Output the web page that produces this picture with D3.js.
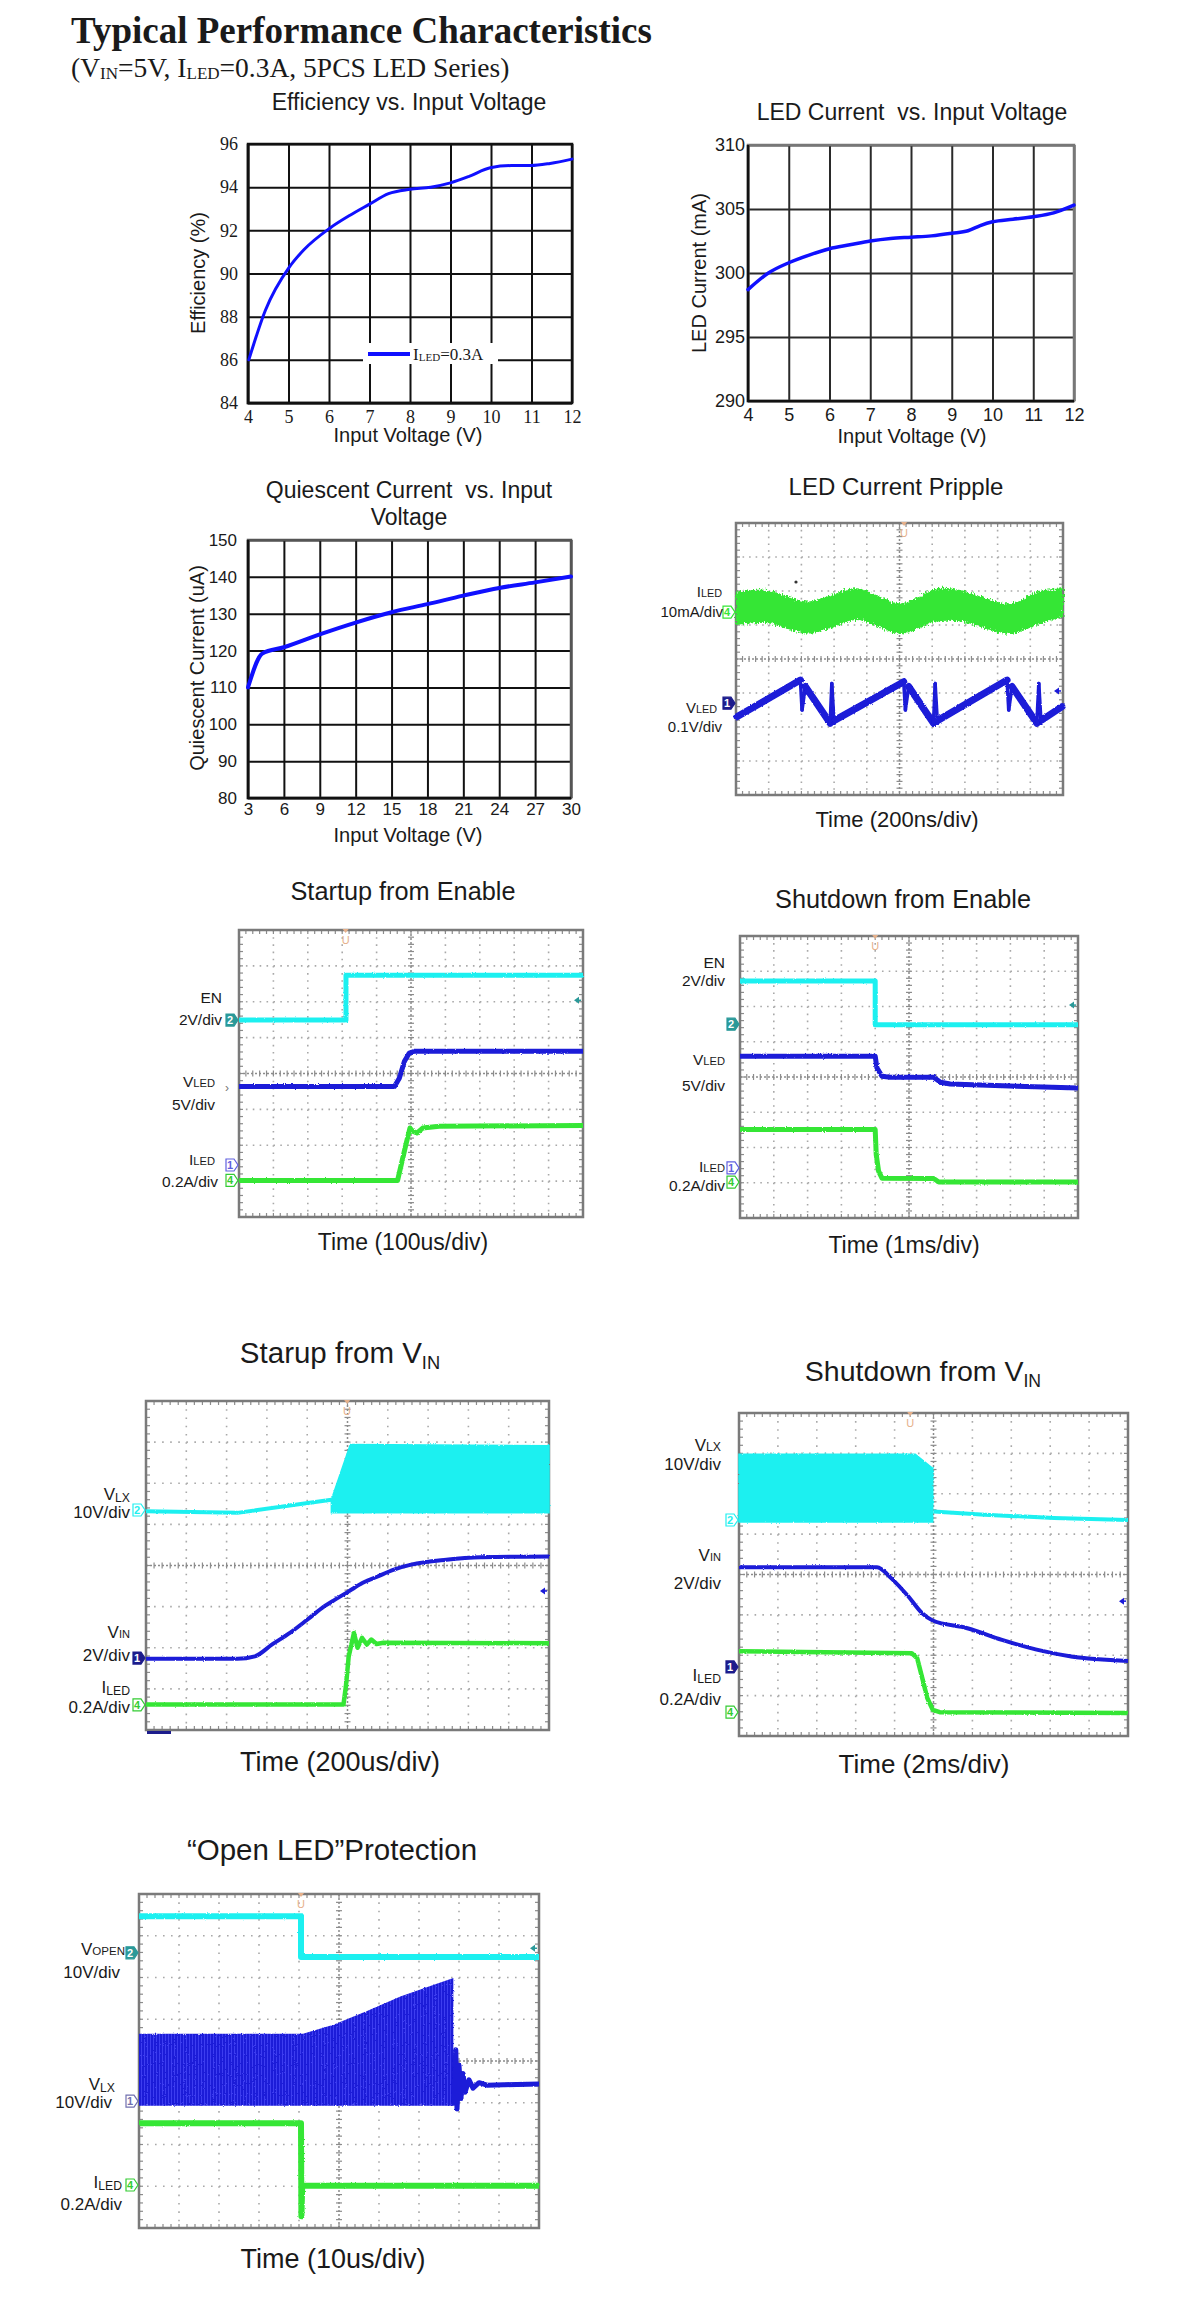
<!DOCTYPE html>
<html>
<head>
<meta charset="utf-8">
<script src="https://cdn.jsdelivr.net/npm/d3@7"></script>
<style>
  body { margin: 0; background: #fff; }
  svg { display: block; }
  text { font-family: "Liberation Sans", Arial, sans-serif; fill: #1a1a1a; }
  .serif { font-family: "Liberation Serif", "Times New Roman", serif; }
</style>
</head>
<body>
<div id="content"></div>
<script>
// ---------------- data ----------------

// Efficiency vs. Input Voltage
var effVin = [4.02, 4.43, 5.02, 5.38, 6.02, 6.52, 6.99, 7.47, 8.0, 8.51, 9.0, 9.46, 9.98, 10.5, 10.98, 11.46, 12.0];
var effPct = [86.0, 88.3, 90.3, 91.1, 92.1, 92.7, 93.2, 93.7, 93.9, 94.0, 94.2, 94.5, 94.9, 95.0, 95.0, 95.1, 95.3];
var effXTicks = [4, 5, 6, 7, 8, 9, 10, 11, 12];
var effYTicks = [84, 86, 88, 90, 92, 94, 96];

// LED Current vs. Input Voltage
var iledVin = [4, 4.5, 5, 5.5, 6, 6.5, 7, 7.5, 8, 8.5, 9, 9.4, 9.7, 10, 10.5, 11, 11.5, 12];
var iledMa = [298.7, 300.0, 300.8, 301.4, 301.9, 302.2, 302.5, 302.7, 302.8, 302.9, 303.1, 303.3, 303.7, 304.0, 304.2, 304.4, 304.7, 305.3];
var iledXTicks = [4, 5, 6, 7, 8, 9, 10, 11, 12];
var iledYTicks = [290, 295, 300, 305, 310];

// Quiescent Current vs. Input Voltage
var iqVin = [3, 4.2, 6, 9, 12, 15, 18, 21, 24, 27, 30];
var iqUa = [110, 119.2, 120.9, 124.4, 127.6, 130.4, 132.6, 134.9, 137, 138.5, 140.1];
var iqXTicks = [3, 6, 9, 12, 15, 18, 21, 24, 27, 30];
var iqYTicks = [80, 90, 100, 110, 120, 130, 140, 150];

// scope shots: [division from left, division from bottom] (10 x 8 divs)
// LED current ripple
var rippleIledBand = [[0, 5.0, 5.98], [0.95, 5.05, 6.03], [2.17, 4.75, 5.69], [2.88, 4.9, 5.88], [3.7, 5.15, 6.08], [5.03, 4.75, 5.64],
  [6.15, 5.1, 6.08], [6.86, 5.1, 6.03], [8.39, 4.74, 5.64], [9.2, 5.0, 5.98], [10, 5.25, 6.08]];
var rippleVled = [[0.03, 2.3], [1.97, 3.38], [2.02, 2.5], [2.12, 3.19], [2.88, 2.11], [2.93, 3.28], [3.0, 2.11], [3.04, 2.21],
  [5.13, 3.33], [5.18, 2.5], [5.28, 3.19], [6.04, 2.11], [6.09, 3.28], [6.16, 2.11], [6.2, 2.21],
  [8.29, 3.38], [8.34, 2.5], [8.44, 3.19], [9.2, 2.11], [9.26, 3.28], [9.33, 2.11], [9.36, 2.21], [9.97, 2.6]];

// Startup from Enable
var suEnEN = [[0, 5.49], [3.11, 5.49], [3.11, 6.74], [10, 6.74]];
var suEnVled = [[0, 3.64], [4.52, 3.64], [4.66, 3.87], [4.81, 4.34], [4.95, 4.57], [5.1, 4.62], [10, 4.62]];
var suEnIled = [[0, 1.02], [4.61, 1.02], [4.85, 2.01], [4.97, 2.48], [5.05, 2.39], [5.17, 2.34], [5.34, 2.48], [5.82, 2.53], [10, 2.55]];

// Shutdown from Enable
var sdEnEN = [[0, 6.72], [4.0, 6.72], [4.0, 5.48], [10, 5.48]];
var sdEnVled = [[0, 4.59], [4.0, 4.59], [4.05, 4.26], [4.2, 4.02], [4.45, 3.99], [5.73, 3.99], [5.93, 3.85], [6.22, 3.8], [8.2, 3.74], [10, 3.69]];
var sdEnIled = [[0, 2.51], [4.0, 2.51], [4.03, 1.8], [4.1, 1.33], [4.2, 1.13], [5.73, 1.12], [5.88, 1.02], [10, 1.02]];

// Startup from VIN
var suVinVlxIdle = [[0, 5.32], [2.27, 5.28], [4.6, 5.6]];
var suVinVlxHi = [[4.6, 5.6], [5.07, 6.94], [10, 6.91]];
var suVinVlxLo = [[4.6, 5.28], [10, 5.28]];
var suVinVin = [[0, 1.73], [2.27, 1.73], [2.7, 1.79], [3.13, 2.08], [3.57, 2.36], [4.0, 2.68], [4.43, 3.01], [4.69, 3.17], [5.03, 3.37],
  [5.38, 3.58], [5.72, 3.72], [6.15, 3.9], [6.58, 4.02], [7.45, 4.14], [8.31, 4.2], [10, 4.22]];
var suVinIled = [[0, 0.62], [4.9, 0.62], [4.96, 1.06], [5.03, 1.79], [5.16, 2.36], [5.25, 2.0], [5.36, 2.24], [5.48, 2.08],
  [5.59, 2.2], [5.72, 2.09], [5.89, 2.12], [10, 2.11]];

// Shutdown from VIN
var sdVinVlxHi = [[0, 6.98], [4.53, 6.98], [4.98, 6.63]];
var sdVinVlxLo = [[0, 5.3], [4.98, 5.3]];
var sdVinVlxOff = [[5.0, 5.56], [6.32, 5.48], [8.1, 5.4], [10, 5.35]];
var sdVinVin = [[0, 4.18], [3.55, 4.18], [3.91, 3.91], [4.35, 3.46], [4.71, 3.04], [4.98, 2.86], [5.87, 2.67], [6.76, 2.38],
  [7.65, 2.14], [8.54, 1.97], [10, 1.86]];
var sdVinIled = [[0, 2.1], [4.44, 2.05], [4.58, 1.93], [4.71, 1.44], [4.84, 0.94], [4.98, 0.65], [5.16, 0.59], [10, 0.57]];

// "Open LED" protection
var olVopen = [[0, 7.47], [4.05, 7.47], [4.05, 6.49], [10, 6.49]];
var olVlxHi = [[0, 4.65], [4.1, 4.65], [4.86, 4.87], [5.7, 5.2], [6.55, 5.55], [7.39, 5.83], [7.86, 5.99]];
var olVlxLo = [[0, 2.93], [7.86, 2.93]];
var olVlxRing = [[7.86, 2.93], [7.92, 4.27], [7.95, 2.85], [8.0, 3.9], [8.05, 3.1], [8.1, 3.7], [8.15, 3.25], [8.25, 3.55],
  [8.35, 3.35], [8.5, 3.48], [8.7, 3.42], [10, 3.45]];
var olIled = [[0, 2.51], [4.05, 2.51], [4.06, 0.28], [4.08, 1.01], [10, 1.01]];

// ---------------- setup ----------------
var W = 1200, H = 2307;
var cyan = "#1ff0f0", blue = "#1a1ad8", green = "#35e635", teal = "#2a9999", navy = "#1c1c8c";

var svg = d3.select("#content")
  .append("svg")
  .attr("width", W)
  .attr("height", H);

svg.append("rect").attr("width", W).attr("height", H).attr("fill", "#fff");

var defs = svg.append("defs");

// slight scope noise on the traces
function roughFilter(id, freq, scale) {
  var f = defs.append("filter").attr("id", id)
    .attr("filterUnits", "userSpaceOnUse")
    .attr("x", 0).attr("y", 0).attr("width", W).attr("height", H);
  f.append("feTurbulence").attr("type", "fractalNoise").attr("baseFrequency", freq)
    .attr("numOctaves", 1).attr("seed", 7).attr("result", "noise");
  f.append("feDisplacementMap").attr("in", "SourceGraphic").attr("in2", "noise")
    .attr("scale", scale).attr("xChannelSelector", "R").attr("yChannelSelector", "G");
}
roughFilter("rough", "0.9 0.9", 2.5);
roughFilter("roughBand", "0.9 0.4", 8);

var stripe = defs.append("pattern").attr("id", "blueStripe")
  .attr("patternUnits", "userSpaceOnUse").attr("width", 3).attr("height", 10);
stripe.append("rect").attr("width", 3).attr("height", 10).attr("fill", "#1a1ad8");
stripe.append("rect").attr("width", 1).attr("height", 10).attr("fill", "#3c3cf0");

// text with sub parts: parts = [[text, relSize, dy], ...]
function richText(g, x, y, size, anchor, parts, cls) {
  var t = g.append("text")
    .attr("x", x).attr("y", y)
    .attr("text-anchor", anchor)
    .style("font-size", size + "px")
    .style("white-space", "pre");
  if (cls) t.attr("class", cls);
  parts.forEach(function (p) {
    var s = t.append("tspan").text(p[0]);
    if (p[1]) s.style("font-size", (size * p[1]) + "px");
    if (p[2]) s.attr("dy", p[2]);
  });
  return t;
}

////////////////////////////////////////////////
// header
svg.append("text")
  .attr("x", 71).attr("y", 43)
  .attr("class", "serif")
  .style("font-size", "37px")
  .style("font-weight", "bold")
  .text("Typical Performance Characteristics");

richText(svg, 71, 77, 27.5, "start", [["(V"], ["IN", 0.62, 2], ["=5V, I", 0, -2], ["LED", 0.62, 2], ["=0.3A, 5PCS LED Series)", 0, -2]], "serif");

////////////////////////////////////////////////
// line charts

function lineChart(o) {
  var x = d3.scaleLinear().domain(o.xDomain).range([o.left, o.right]);
  var y = d3.scaleLinear().domain(o.yDomain).range([o.bottom, o.top]);
  var g = svg.append("g");

  var xAxis = g.append("g")
    .attr("transform", "translate(0," + o.bottom + ")")
    .call(d3.axisBottom(x).tickValues(o.xTicks).tickSizeInner(-(o.bottom - o.top)).tickSizeOuter(0).tickPadding(o.xPad));
  var yAxis = g.append("g")
    .attr("transform", "translate(" + o.left + ",0)")
    .call(d3.axisLeft(y).tickValues(o.yTicks).tickSizeInner(-(o.right - o.left)).tickSizeOuter(0).tickPadding(o.yPad));

  [xAxis, yAxis].forEach(function (a) {
    a.select(".domain").remove();
    a.selectAll("line").attr("stroke", o.grid).attr("stroke-width", o.gridW);
    a.selectAll("text")
      .attr("class", o.tickCls || null)
      .style("font-size", o.tickSize + "px")
      .attr("fill", "#1a1a1a");
  });

  // frame
  g.append("rect")
    .attr("x", o.left).attr("y", o.top)
    .attr("width", o.right - o.left).attr("height", o.bottom - o.top)
    .attr("fill", "none").attr("stroke", o.frameTR).attr("stroke-width", o.frameW);
  g.append("path")
    .attr("d", "M" + o.left + "," + o.top + "V" + o.bottom + "H" + o.right)
    .attr("fill", "none").attr("stroke", "#111").attr("stroke-width", o.frameW);

  if (o.legend) o.legend(g);

  var line = d3.line()
    .x(function (d) { return x(d[0]); })
    .y(function (d) { return y(d[1]); })
    .curve(d3.curveMonotoneX);
  g.append("path")
    .datum(o.xs.map(function (v, i) { return [v, o.ys[i]]; }))
    .attr("d", line)
    .attr("fill", "none")
    .attr("stroke", "#1010ff")
    .attr("stroke-width", o.lineW)
    .attr("stroke-linecap", "round");

  // titles
  o.title.forEach(function (t, i) {
    g.append("text").attr("x", o.titleX).attr("y", o.titleY + i * 27)
      .attr("text-anchor", "middle").style("font-size", "23px").style("white-space", "pre").text(t);
  });
  g.append("text").attr("x", o.xTitleX).attr("y", o.xTitleY)
    .attr("text-anchor", "middle").style("font-size", "20px").text("Input Voltage (V)");
  g.append("text")
    .attr("transform", "translate(" + o.yTitleX + "," + o.yTitleY + ") rotate(-90)")
    .attr("text-anchor", "middle").style("font-size", "20px").text(o.yTitle);
}

lineChart({
  left: 248, right: 572, top: 144, bottom: 403,
  xDomain: [4, 12], yDomain: [84, 96],
  xTicks: effXTicks, yTicks: effYTicks,
  xPad: 7, yPad: 10, tickSize: 18, tickCls: "serif",
  grid: "#111", gridW: 2, frameTR: "#111", frameW: 2.5,
  xs: effVin, ys: effPct, lineW: 3,
  title: ["Efficiency vs. Input Voltage"], titleX: 409, titleY: 110,
  xTitleX: 408, xTitleY: 442,
  yTitle: "Efficiency (%)", yTitleX: 205, yTitleY: 273,
  legend: function (g) {
    g.append("rect").attr("x", 363).attr("y", 343).attr("width", 135).attr("height", 21).attr("fill", "#fff");
    g.append("line").attr("x1", 368).attr("x2", 410).attr("y1", 354).attr("y2", 354)
      .attr("stroke", "#1010ff").attr("stroke-width", 4);
    richText(g, 413, 360, 17, "start", [["I"], ["LED", 0.65, 1], ["=0.3A", 0, -1]], "serif");
  }
});

lineChart({
  left: 748, right: 1074, top: 145, bottom: 401,
  xDomain: [4, 12], yDomain: [290, 310],
  xTicks: iledXTicks, yTicks: iledYTicks,
  xPad: 7, yPad: 3, tickSize: 18,
  grid: "#2a2a2a", gridW: 2, frameTR: "#777", frameW: 2.5,
  xs: iledVin, ys: iledMa, lineW: 3.5,
  title: ["LED Current  vs. Input Voltage"], titleX: 912, titleY: 120,
  xTitleX: 912, xTitleY: 443,
  yTitle: "LED Current (mA)", yTitleX: 706, yTitleY: 273
});

lineChart({
  left: 248, right: 571, top: 540, bottom: 798,
  xDomain: [3, 30], yDomain: [80, 150],
  xTicks: iqXTicks, yTicks: iqYTicks,
  xPad: 5, yPad: 11, tickSize: 17,
  grid: "#111", gridW: 2, frameTR: "#555", frameW: 2.5,
  xs: iqVin, ys: iqUa, lineW: 4,
  title: ["Quiescent Current  vs. Input", "Voltage"], titleX: 409, titleY: 498,
  xTitleX: 408, xTitleY: 842,
  yTitle: "Quiescent Current (uA)", yTitleX: 204, yTitleY: 668
});

////////////////////////////////////////////////
// oscilloscope shots

function scope(o) {
  var x = d3.scaleLinear().domain([0, 10]).range([o.left, o.right]);
  var y = d3.scaleLinear().domain([0, 8]).range([o.bottom, o.top]);
  var g = svg.append("g");
  var dx = (o.right - o.left) / 50, dy = (o.bottom - o.top) / 40;

  // dotted divisions
  g.selectAll(".vdiv")
    .data(d3.range(1, 10).filter(function (d) { return d !== 5; }))
    .join("line")
    .attr("x1", function (d) { return x(d); }).attr("x2", function (d) { return x(d); })
    .attr("y1", o.top).attr("y2", o.bottom)
    .attr("stroke", "#a9a9a9").attr("stroke-width", 1.6)
    .attr("stroke-dasharray", "1.6," + (dy - 1.6));
  g.selectAll(".hdiv")
    .data(d3.range(1, 8).filter(function (d) { return d !== 4; }))
    .join("line")
    .attr("y1", function (d) { return y(d); }).attr("y2", function (d) { return y(d); })
    .attr("x1", o.left).attr("x2", o.right)
    .attr("stroke", "#a9a9a9").attr("stroke-width", 1.6)
    .attr("stroke-dasharray", "1.6," + (dx - 1.6));

  // center cross with minor ticks
  g.append("line").attr("x1", x(5)).attr("x2", x(5)).attr("y1", o.top).attr("y2", o.bottom)
    .attr("stroke", "#8c8c8c").attr("stroke-width", 1.5).attr("stroke-dasharray", "2,2");
  g.append("line").attr("y1", y(4)).attr("y2", y(4)).attr("x1", o.left).attr("x2", o.right)
    .attr("stroke", "#8c8c8c").attr("stroke-width", 1.5).attr("stroke-dasharray", "2,2");
  g.selectAll(".ct1").data(d3.range(1, 40)).join("line")
    .attr("x1", x(5) - 3).attr("x2", x(5) + 3)
    .attr("y1", function (d) { return o.top + d * dy; }).attr("y2", function (d) { return o.top + d * dy; })
    .attr("stroke", "#8c8c8c").attr("stroke-width", 1.2);
  g.selectAll(".ct2").data(d3.range(1, 50)).join("line")
    .attr("y1", y(4) - 3).attr("y2", y(4) + 3)
    .attr("x1", function (d) { return o.left + d * dx; }).attr("x2", function (d) { return o.left + d * dx; })
    .attr("stroke", "#8c8c8c").attr("stroke-width", 1.2);

  // frame ticks
  var ft = [];
  d3.range(1, 50).forEach(function (d) {
    var xx = o.left + d * dx;
    ft.push([xx, o.top, xx, o.top + 4], [xx, o.bottom, xx, o.bottom - 4]);
  });
  d3.range(1, 40).forEach(function (d) {
    var yy = o.top + d * dy;
    ft.push([o.left, yy, o.left + 4, yy], [o.right, yy, o.right - 4, yy]);
  });
  g.selectAll(".ft").data(ft).join("line")
    .attr("x1", function (d) { return d[0]; }).attr("y1", function (d) { return d[1]; })
    .attr("x2", function (d) { return d[2]; }).attr("y2", function (d) { return d[3]; })
    .attr("stroke", "#8c8c8c").attr("stroke-width", 1.2);

  g.append("rect")
    .attr("x", o.left).attr("y", o.top)
    .attr("width", o.right - o.left).attr("height", o.bottom - o.top)
    .attr("fill", "none").attr("stroke", "#7a7a7a").attr("stroke-width", 2.5);

  var line = d3.line()
    .x(function (d) { return x(d[0]); })
    .y(function (d) { return y(d[1]); });

  // switching bands (filled)
  (o.bands || []).forEach(function (b) {
    var pts = b.hi.concat(b.lo.slice().reverse());
    g.append("path")
      .attr("d", line(pts) + "Z")
      .attr("fill", b.fill).attr("stroke", b.stroke || "none").attr("stroke-width", 1.5)
      .attr("filter", "url(#rough)");
  });
  if (o.noisyBand) {
    var area = d3.area()
      .x(function (d) { return x(d[0]); })
      .y0(function (d) { return y(d[1]); })
      .y1(function (d) { return y(d[2]); })
      .curve(d3.curveCatmullRom);
    g.append("path")
      .datum(o.noisyBand.data)
      .attr("d", area)
      .attr("fill", o.noisyBand.color)
      .attr("filter", "url(#roughBand)");
  }

  // traces
  o.traces.forEach(function (t) {
    g.append("path")
      .datum(t.data)
      .attr("d", line.curve(t.curve || d3.curveLinear))
      .attr("fill", "none")
      .attr("stroke", t.color)
      .attr("stroke-width", t.width)
      .attr("stroke-linejoin", "round")
      .attr("filter", "url(#rough)");
  });

  // sawtooth: long ramps drawn thicker than the fast edges
  if (o.saw) {
    var segs = d3.pairs(o.saw.data);
    g.selectAll(".saw").data(segs).join("line")
      .attr("x1", function (d) { return x(d[0][0]); }).attr("y1", function (d) { return y(d[0][1]); })
      .attr("x2", function (d) { return x(d[1][0]); }).attr("y2", function (d) { return y(d[1][1]); })
      .attr("stroke", o.saw.color)
      .attr("stroke-width", function (d) { return d[1][0] - d[0][0] > 0.5 ? 7 : 3.5; })
      .attr("stroke-linecap", "round")
      .attr("filter", "url(#rough)");
  }

  // trigger marker at the top
  var tx = x(o.trigger);
  g.append("path").attr("d", "M" + (tx - 3) + "," + (o.top - 1) + "h6l-3,4z").attr("fill", "#e6b08a");
  g.append("text").attr("x", tx).attr("y", o.top + 14).attr("text-anchor", "middle")
    .style("font-size", "11px").style("fill", "#e6b08a").text("U");

  // arrow marker on the right edge
  var ay = y(o.arrow[0]);
  g.append("path").attr("d", "M" + (o.right - 9) + "," + ay + "l5,-3.5v7z").attr("fill", o.arrow[1]);
  g.append("line").attr("x1", o.right - 5).attr("x2", o.right - 2).attr("y1", ay).attr("y2", ay)
    .attr("stroke", o.arrow[1]).attr("stroke-width", 1.5);

  // channel markers at the left edge
  o.markers.forEach(function (m) {
    var my = y(m.level), px = o.left - 1, w = 12, h = 12;
    g.append("path")
      .attr("d", "M" + (px - w) + "," + (my - h / 2) + "h" + (w - 4) + "l4," + (h / 2) + "l-4," + (h / 2) + "h" + (-(w - 4)) + "z")
      .attr("fill", m.filled ? m.color : "#fff")
      .attr("stroke", m.color).attr("stroke-width", 1.2);
    g.append("text").attr("x", px - w / 2 - 2).attr("y", my + 4).attr("text-anchor", "middle")
      .style("font-size", "11px").style("font-weight", "bold")
      .style("fill", m.filled ? "#fff" : m.color).text(m.num);
  });

  // channel labels
  o.labels.forEach(function (l) {
    richText(g, l.x, l.y, o.labelSize, "end", l.parts);
  });

  // titles
  richText(g, o.titleX, o.titleY, o.titleSize, "middle", o.title);
  g.append("text").attr("x", o.timeX).attr("y", o.timeY).attr("text-anchor", "middle")
    .style("font-size", o.timeSize + "px").text(o.time);

  return {g: g, x: x, y: y};
}

// LED Current Ripple
var rip = scope({
  left: 736, right: 1063, top: 523, bottom: 795,
  noisyBand: {data: rippleIledBand, color: green},
  traces: [],
  saw: {data: rippleVled, color: blue},
  trigger: 5.14, arrow: [3.06, blue],
  markers: [{level: 5.38, num: "4", color: green}, {level: 2.7, num: "1", color: navy, filled: true}],
  labelSize: 15,
  labels: [
    {x: 722, y: 597, parts: [["I"], ["LED", 0.72]]},
    {x: 723, y: 617, parts: [["10mA/div"]]},
    {x: 717, y: 713, parts: [["V"], ["LED", 0.72]]},
    {x: 722, y: 732, parts: [["0.1V/div"]]}
  ],
  title: [["LED Current Pripple"]], titleX: 896, titleY: 495, titleSize: 24,
  time: "Time (200ns/div)", timeX: 897, timeY: 827, timeSize: 22
});
rip.g.append("circle").attr("cx", 796).attr("cy", 582).attr("r", 1.6).attr("fill", "#333");

// Startup from Enable
var sue = scope({
  left: 239, right: 583, top: 930, bottom: 1217,
  traces: [
    {data: suEnEN, color: cyan, width: 5},
    {data: suEnVled, color: blue, width: 5},
    {data: suEnIled, color: green, width: 5}
  ],
  trigger: 3.1, arrow: [6.04, teal],
  markers: [
    {level: 5.49, num: "2", color: teal, filled: true},
    {level: 1.45, num: "1", color: "#6060e0"},
    {level: 1.02, num: "4", color: "#33cc33"}
  ],
  labelSize: 15.5,
  labels: [
    {x: 222, y: 1003, parts: [["EN"]]},
    {x: 222, y: 1025, parts: [["2V/div"]]},
    {x: 215, y: 1087, parts: [["V"], ["LED", 0.72]]},
    {x: 215, y: 1110, parts: [["5V/div"]]},
    {x: 215, y: 1165, parts: [["I"], ["LED", 0.72]]},
    {x: 218, y: 1187, parts: [["0.2A/div"]]}
  ],
  title: [["Startup from Enable"]], titleX: 403, titleY: 900, titleSize: 25.3,
  time: "Time (100us/div)", timeX: 403, timeY: 1250, timeSize: 23
});
sue.g.append("text").attr("x", 227).attr("y", 1092).attr("text-anchor", "middle")
  .style("font-size", "12px").style("fill", "#777").text("›");

// Shutdown from Enable
scope({
  left: 740, right: 1078, top: 936, bottom: 1218,
  traces: [
    {data: sdEnEN, color: cyan, width: 5},
    {data: sdEnVled, color: blue, width: 5},
    {data: sdEnIled, color: green, width: 5}
  ],
  trigger: 4.0, arrow: [6.04, teal],
  markers: [
    {level: 5.5, num: "2", color: teal, filled: true},
    {level: 1.42, num: "1", color: "#6060e0"},
    {level: 1.02, num: "4", color: "#33cc33"}
  ],
  labelSize: 15.5,
  labels: [
    {x: 725, y: 968, parts: [["EN"]]},
    {x: 725, y: 986, parts: [["2V/div"]]},
    {x: 725, y: 1065, parts: [["V"], ["LED", 0.72]]},
    {x: 725, y: 1091, parts: [["5V/div"]]},
    {x: 725, y: 1172, parts: [["I"], ["LED", 0.72]]},
    {x: 725, y: 1191, parts: [["0.2A/div"]]}
  ],
  title: [["Shutdown from Enable"]], titleX: 903, titleY: 908, titleSize: 25.3,
  time: "Time (1ms/div)", timeX: 904, timeY: 1253, timeSize: 23
});

// Starup from VIN
var suv = scope({
  left: 146, right: 549, top: 1401, bottom: 1730,
  bands: [{hi: suVinVlxHi, lo: suVinVlxLo, fill: cyan, stroke: cyan}],
  traces: [
    {data: suVinVlxIdle, color: cyan, width: 4},
    {data: suVinVin, color: blue, width: 4, curve: d3.curveMonotoneX},
    {data: suVinIled, color: green, width: 4.5}
  ],
  trigger: 4.99, arrow: [3.38, blue],
  markers: [
    {level: 5.35, num: "2", color: cyan},
    {level: 1.75, num: "1", color: navy, filled: true},
    {level: 0.61, num: "4", color: "#33cc33"}
  ],
  labelSize: 17,
  labels: [
    {x: 130, y: 1500, parts: [["V"], ["LX", 0.72, 2]]},
    {x: 130, y: 1518, parts: [["10V/div"]]},
    {x: 130, y: 1638, parts: [["V"], ["IN", 0.65]]},
    {x: 130, y: 1661, parts: [["2V/div"]]},
    {x: 130, y: 1693, parts: [["I"], ["LED", 0.72, 2]]},
    {x: 130, y: 1713, parts: [["0.2A/div"]]}
  ],
  title: [["Starup from V"], ["IN", 0.62, 6]], titleX: 340, titleY: 1363, titleSize: 29.5,
  time: "Time (200us/div)", timeX: 340, timeY: 1771, timeSize: 27
});
suv.g.append("rect").attr("x", 147).attr("y", 1731).attr("width", 24).attr("height", 3).attr("fill", navy);

// Shutdown from VIN
scope({
  left: 739, right: 1128, top: 1413, bottom: 1736,
  bands: [{hi: sdVinVlxHi, lo: sdVinVlxLo, fill: cyan, stroke: cyan}],
  traces: [
    {data: sdVinVlxOff, color: cyan, width: 4},
    {data: sdVinVin, color: blue, width: 4, curve: d3.curveMonotoneX},
    {data: sdVinIled, color: green, width: 4.5}
  ],
  trigger: 4.4, arrow: [3.34, blue],
  markers: [
    {level: 5.35, num: "2", color: cyan},
    {level: 1.71, num: "1", color: navy, filled: true},
    {level: 0.59, num: "4", color: "#33cc33"}
  ],
  labelSize: 17,
  labels: [
    {x: 721, y: 1451, parts: [["V"], ["LX", 0.72]]},
    {x: 721, y: 1470, parts: [["10V/div"]]},
    {x: 721, y: 1561, parts: [["V"], ["IN", 0.65]]},
    {x: 721, y: 1589, parts: [["2V/div"]]},
    {x: 721, y: 1681, parts: [["I"], ["LED", 0.72, 2]]},
    {x: 721, y: 1705, parts: [["0.2A/div"]]}
  ],
  title: [["Shutdown from V"], ["IN", 0.62, 6]], titleX: 923, titleY: 1381, titleSize: 28.5,
  time: "Time (2ms/div)", timeX: 924, timeY: 1773, timeSize: 26
});

// "Open LED" Protection
scope({
  left: 139, right: 539, top: 1894, bottom: 2228,
  bands: [{hi: olVlxHi, lo: olVlxLo, fill: "url(#blueStripe)"}],
  traces: [
    {data: olVopen, color: cyan, width: 6},
    {data: olVlxRing, color: blue, width: 5},
    {data: olIled, color: green, width: 6}
  ],
  trigger: 4.05, arrow: [6.7, teal],
  markers: [
    {level: 6.59, num: "2", color: teal, filled: true},
    {level: 3.04, num: "1", color: "#7070b0"},
    {level: 1.03, num: "4", color: "#33cc33"}
  ],
  labelSize: 17,
  labels: [
    {x: 125, y: 1955, parts: [["V"], ["OPEN", 0.68]]},
    {x: 120, y: 1978, parts: [["10V/div"]]},
    {x: 115, y: 2090, parts: [["V"], ["LX", 0.72, 2]]},
    {x: 112, y: 2108, parts: [["10V/div"]]},
    {x: 122, y: 2188, parts: [["I"], ["LED", 0.72, 2]]},
    {x: 122, y: 2210, parts: [["0.2A/div"]]}
  ],
  title: [["“Open LED”Protection"]], titleX: 332, titleY: 1860, titleSize: 29.5,
  time: "Time (10us/div)", timeX: 333, timeY: 2268, timeSize: 27
});
</script>
</body>
</html>
